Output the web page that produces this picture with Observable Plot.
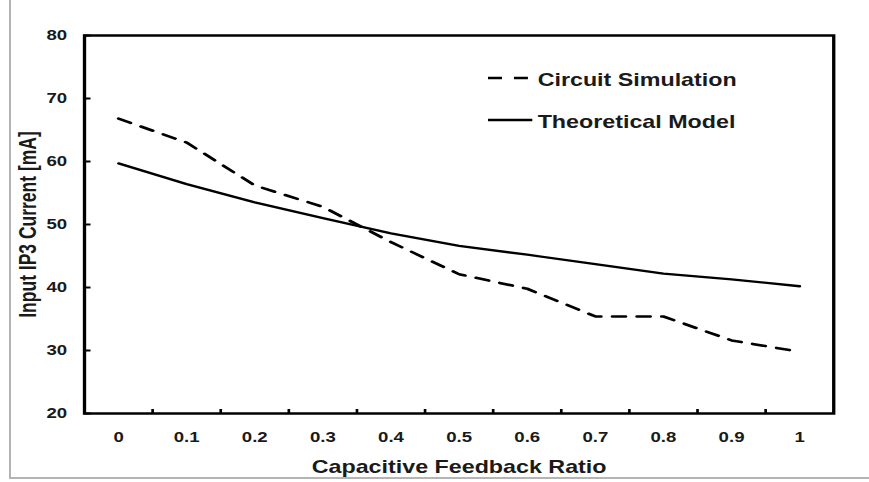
<!DOCTYPE html>
<html><head><meta charset="utf-8">
<script src="https://cdn.jsdelivr.net/npm/d3@7"></script>
<script src="https://cdn.jsdelivr.net/npm/@observablehq/plot@0.6"></script>
<style>
body{margin:0;background:#fff;}
#wrap{position:relative;width:869px;height:482px;overflow:hidden;background:#fff;}
#chart{position:absolute;left:0;top:0;}
#border{position:absolute;left:9px;top:-2px;width:880px;height:479px;border-left:2px solid #b4b4b4;border-bottom:2px solid #b4b4b4;pointer-events:none;}
</style></head><body>
<div id="wrap"><div id="chart"></div><div id="border"></div></div>
<script>
const ratios = [0, 0.1, 0.2, 0.3, 0.4, 0.5, 0.6, 0.7, 0.8, 0.9, 1];
const circuitSim = [66.8, 63.0, 56.2, 52.8, 47.2, 42.1, 39.8, 35.4, 35.4, 31.6, 29.8];
const theoretical = [59.7, 56.4, 53.5, 51.0, 48.6, 46.6, 45.2, 43.7, 42.2, 41.3, 40.2];
const yTicks = [20, 30, 40, 50, 60, 70, 80];
const seriesNames = ["Circuit Simulation", "Theoretical Model"];
const xLabel = "Capacitive Feedback Ratio";
const yLabel = "Input IP3 Current [mA]";

const simRows = ratios.map((r, i) => ({ratio: r, value: circuitSim[i]}));
const theoRows = ratios.map((r, i) => ({ratio: r, value: theoretical[i]}));
const step = ratios[1] - ratios[0];
const xDomain = [ratios[0] - step / 2, ratios[ratios.length - 1] + step / 2];
const bounds = ratios.slice(1).map((r, i) => (r + ratios[i]) / 2);

const W = 653, H = 482, OUTW = 869;
const mL = 63, mR = 27, mT = 35, mB = 69;
const font = "'Liberation Sans', Arial, sans-serif";

const plot = Plot.plot({
  width: W, height: H,
  marginLeft: mL, marginRight: mR, marginTop: mT, marginBottom: mB,
  x: {domain: xDomain, label: null},
  y: {domain: [yTicks[0], yTicks[yTicks.length - 1]], label: null},
  style: {fontFamily: font, fontSize: "14px", fontWeight: "bold", color: "#1a1a1a", background: "transparent", overflow: "visible"},
  marks: [
    Plot.line(theoRows, {x: "ratio", y: "value", stroke: "#000", strokeWidth: 2.3}),
    Plot.line(simRows, {x: "ratio", y: "value", stroke: "#000", strokeWidth: 2.6, strokeDasharray: "10,8.5"}),
    Plot.frame({stroke: "#000", strokeWidth: 2.5}),
    Plot.axisY(yTicks, {tickSize: 0, tickPadding: 13, tickFormat: d => String(d), label: null}),
    Plot.axisY(yTicks, {tickSize: -5, tickFormat: () => "", label: null, strokeWidth: 2, stroke: "#000"}),
    Plot.axisX(ratios, {tickSize: 0, tickPadding: 18.5, tickFormat: d => String(d), label: null}),
    Plot.axisX(bounds, {tickSize: -4, tickFormat: () => "", label: null, strokeWidth: 2, stroke: "#000"}),
    Plot.text([xLabel], {frameAnchor: "bottom", dy: 54, textAnchor: "middle", lineAnchor: "middle", fontSize: 17.5, fontWeight: "bold", fill: "#1a1a1a"}),
    Plot.text([yLabel], {frameAnchor: "left", rotate: -90, dx: -42, textAnchor: "middle", lineAnchor: "middle", fontSize: 17.5, fontWeight: "bold", fill: "#1a1a1a"}),
    Plot.text([seriesNames[0]], {frameAnchor: "top-left", dx: 403.5 - mL, dy: 45, textAnchor: "start", lineAnchor: "middle", fontSize: 17.5, fontWeight: "bold", fill: "#1a1a1a"}),
    Plot.text([seriesNames[1]], {frameAnchor: "top-left", dx: 403.5 - mL, dy: 87, textAnchor: "start", lineAnchor: "middle", fontSize: 17.5, fontWeight: "bold", fill: "#1a1a1a"})
  ]
});

// legend swatches
const svg = d3.select(plot);
const lg = svg.append("g").attr("stroke", "#000");
lg.append("line").attr("x1", 366.7).attr("x2", 397.5).attr("y1", 78).attr("y2", 78)
  .attr("stroke-width", 2.6).attr("stroke-dasharray", "10.5,9");
lg.append("line").attr("x1", 366.7).attr("x2", 400).attr("y1", 120).attr("y2", 120)
  .attr("stroke-width", 2.3);

// horizontal stretch to match the reference's aspect
plot.setAttribute("viewBox", `0 0 ${W} ${H}`);
plot.setAttribute("preserveAspectRatio", "none");
plot.setAttribute("width", OUTW);
plot.setAttribute("height", H);
plot.style.width = OUTW + "px";
plot.style.height = H + "px";
plot.style.maxWidth = "none";
document.getElementById("chart").appendChild(plot);
</script>
</body></html>
